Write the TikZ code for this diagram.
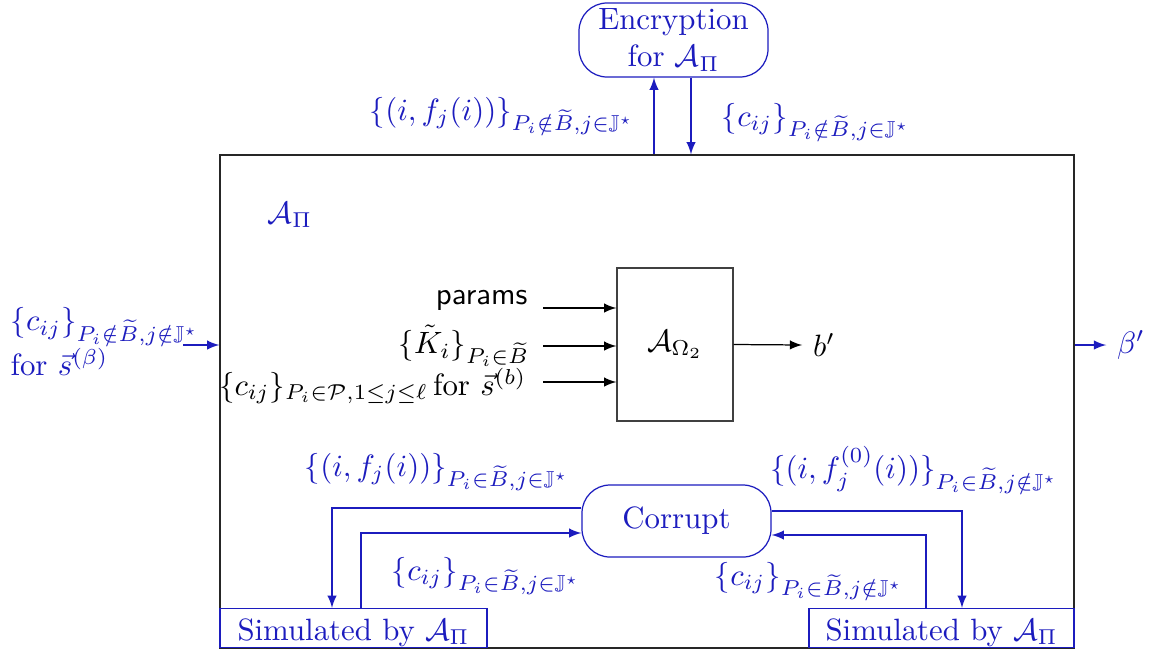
\documentclass[tikz,border=0pt]{standalone}
\usepackage{amsmath,amssymb}
\usetikzlibrary{arrows}
\definecolor{advblue}{HTML}{1C1CBE}
\newcommand{\pxu}{0.0114cm}

\begin{document}
\begin{tikzpicture}[x=0.0114cm, y=-0.0114cm, >=latex,
  box/.style={draw, rectangle, inner sep=0pt},
  pill/.style={draw=advblue, rectangle, rounded corners=28*\pxu, inner sep=0pt, align=center, text=advblue},
  simbox/.style={box, draw=advblue, text=advblue, minimum height=39*\pxu, text height=9.5pt, text depth=1.5pt},
  lbl/.style={inner sep=0pt, text=advblue}]%
\useasboundingbox (0,0) rectangle (1150,652);%
% outer adversary and the encryption oracle
\node[box, draw=black!85, minimum width=854*\pxu, minimum height=493*\pxu] (adv) at (647,401.5) {};%
\node[pill, minimum width=189*\pxu, minimum height=74*\pxu] (enc) at (673.5,40) {Encryption\\for $\mathcal{A}_\Pi$};%
\draw[->, advblue] ([xshift=-19.5*\pxu]enc.south |- adv.north) -- ([xshift=-19.5*\pxu]enc.south);%
\draw[->, advblue] ([xshift=17.5*\pxu]enc.south) -- ([xshift=17.5*\pxu]enc.south |- adv.north);%
\node[lbl] (encin) at (502,116) {$\{(i,f_j(i))\}_{P_i\notin\widetilde{B},j\in\mathbb{J}^\star}$};%
\node[lbl] (encout) at (816,122) {$\{c_{ij}\}_{P_i\notin\widetilde{B},j\in\mathbb{J}^\star}$};%
\node[lbl] (advname) at (290,215) {$\mathcal{A}_\Pi$};%
% inner adversary
\node[box, draw=black!75, minimum width=116*\pxu, minimum height=153*\pxu] (omega) at (675,344.5) {$\mathcal{A}_{\Omega_2}$};%
\coordinate (in1) at (543,308);%
\coordinate (in2) at (543,346);%
\coordinate (in3) at (543,382);%
\draw[->] (in1) -- (in1 -| omega.west);%
\draw[->] (in2) -- (in2 -| omega.west);%
\draw[->] (in3) -- (in3 -| omega.west);%
\node[inner sep=0pt, anchor=east] (params) at (528,300) {\textsf{params}};%
\node[inner sep=0pt, anchor=east] (keys) at (530,346) {$\{\tilde{K}_i\}_{P_i\in\widetilde{B}}$};%
\node[inner sep=0pt, anchor=east] (shares) at (527,386) {$\{c_{ij}\}_{P_i\in\mathcal{P},1\le j\le\ell}$\,for $\vec{s}^{(b)}$};%
\node (bout) at (824,345) {$b'$};%
\draw[->] (omega.east) -- (bout.west);%
% challenge in, guess out
\node[lbl, anchor=west, align=left] (chal) at (10,342) {$\{c_{ij}\}_{P_i\notin\widetilde{B},j\notin\mathbb{J}^\star}$\\for $\vec{s}^{(\beta)}$};%
\coordinate (chalin) at (183,345);%
\draw[->, advblue] (chalin) -- (chalin -| adv.west);%
\node[text=advblue] (betaout) at (1131,345) {$\beta'$};%
\draw[->, advblue] (adv.east |- betaout) -- (betaout.west);%
% corruption oracle and simulated parties
\node[pill, minimum width=189*\pxu, minimum height=72*\pxu] (corrupt) at (676.5,521) {Corrupt};%
\node[simbox, minimum width=267*\pxu] (simL) at (353.5,628) {Simulated by $\mathcal{A}_\Pi$};%
\node[simbox, minimum width=265*\pxu] (simR) at (941.5,628) {Simulated by $\mathcal{A}_\Pi$};%
\draw[->, advblue] ([yshift=13*\pxu]corrupt.west) -| ([xshift=-21.5*\pxu]simL.north);%
\draw[->, advblue] ([xshift=7.5*\pxu]simL.north) |- ([yshift=-12*\pxu]corrupt.west);%
\draw[->, advblue] ([yshift=10*\pxu]corrupt.east) -| ([xshift=20.5*\pxu]simR.north);%
\draw[->, advblue] ([xshift=-15.5*\pxu]simR.north) |- ([yshift=-14*\pxu]corrupt.east);%
\node[lbl] (corLin) at (437,472) {$\{(i,f_j(i))\}_{P_i\in\widetilde{B},j\in\mathbb{J}^\star}$};%
\node[lbl] (corRin) at (914,470) {$\{(i,f_j^{(0)}(i))\}_{P_i\in\widetilde{B},j\notin\mathbb{J}^\star}$};%
\node[lbl] (corLout) at (486,576) {$\{c_{ij}\}_{P_i\in\widetilde{B},j\in\mathbb{J}^\star}$};%
\node[lbl] (corRout) at (809,581) {$\{c_{ij}\}_{P_i\in\widetilde{B},j\notin\mathbb{J}^\star}$};%
\end{tikzpicture}
\end{document}
